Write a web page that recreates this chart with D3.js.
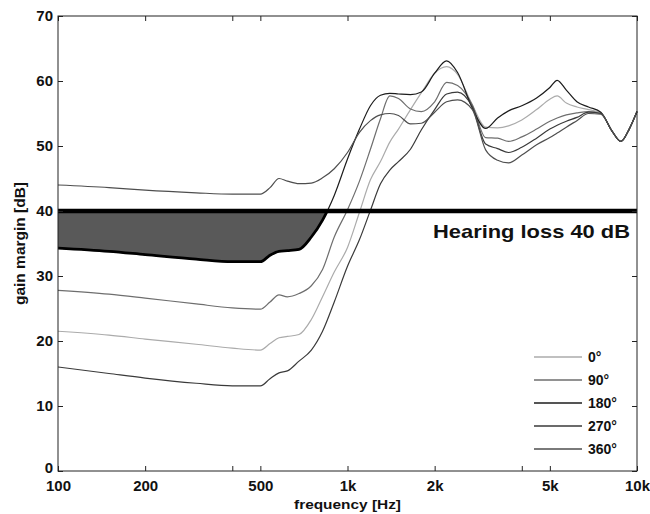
<!DOCTYPE html>
<html>
<head>
<meta charset="utf-8">
<script src="https://cdn.jsdelivr.net/npm/d3@7"></script>
<style>
body { margin: 0; background: #fff; }
text { font-family: "Liberation Sans", Arial, sans-serif; font-weight: bold; fill: #111; }
</style>
</head>
<body>
<svg></svg>
<script>
// frequency grid the curves were read at (Hz)
let freqs = [100, 150, 200, 300, 400, 500, 540, 580, 620, 680, 750, 820, 900,
             1000, 1100, 1200, 1300, 1400, 1500, 1650, 1800, 2000, 2200, 2400, 2700,
             3000, 3300, 3600, 4000, 4500, 5000, 5300, 5700, 6200, 6800, 7500, 8200,
             8800, 9400, 10000];

// gain margin per angle (dB)
let deg0 = [21.5, 20.9, 20.3, 19.5, 18.9, 18.6, 19.6, 20.5, 20.7, 21.0, 23.3, 26.8, 30.6,
            34.4, 39.8, 44.8, 47.6, 50.6, 52.6, 55.6, 58.2, 61.2, 62.2, 61.0, 56.3,
            52.9, 52.8, 53.1, 54.0, 55.6, 57.2, 57.7, 56.6, 56.0, 55.6, 55.1, 52.3,
            50.7, 52.6, 55.3];
let deg90 = [27.8, 27.2, 26.6, 25.7, 25.1, 24.9, 26.0, 27.1, 26.8, 27.3, 28.5, 31.0, 36.0,
             40.2, 44.6, 49.5, 54.2, 57.7, 57.3, 55.7, 55.3, 56.8, 59.8, 59.3, 56.3,
             51.3, 51.2, 50.7, 51.4, 52.6, 53.8, 54.3, 54.8, 55.1, 55.3, 55.0, 52.3,
             50.7, 52.6, 55.3];
let deg180 = [34.3, 33.8, 33.3, 32.6, 32.2, 32.2, 33.2, 33.8, 33.9, 34.1, 36.0, 38.6, 42.4,
              48.0, 52.6, 56.2, 57.8, 58.1, 58.0, 57.9, 58.3, 61.2, 63.1, 61.3, 55.8,
              52.7, 54.3, 55.4, 56.2, 57.4, 59.0, 60.1, 58.6, 56.8, 56.0, 55.2, 52.3,
              50.7, 52.6, 55.3];
let deg270 = [16.0, 15.0, 14.3, 13.5, 13.1, 13.1, 14.2, 15.1, 15.4, 16.9, 18.6, 21.5, 26.0,
              31.5, 35.6, 40.1, 44.2, 46.3, 47.6, 49.5, 52.5, 55.6, 58.0, 58.3, 56.0,
              50.3, 49.6, 49.0, 49.8, 51.2, 52.6, 53.2, 53.8, 54.4, 55.2, 55.0, 52.3,
              50.7, 52.6, 55.3];
let deg360 = [44.0, 43.6, 43.2, 42.8, 42.6, 42.6, 43.6, 45.0, 44.6, 44.2, 44.3, 45.1, 46.5,
              49.0, 52.1, 53.9, 54.8, 55.0, 54.7, 53.4, 53.5, 55.2, 56.8, 57.1, 55.6,
              49.4, 47.8, 47.4, 48.6, 50.2, 51.3, 52.0, 52.9, 53.9, 55.0, 54.9, 52.3,
              50.7, 52.6, 55.3];

let seriesNames = ['0°', '90°', '180°', '270°', '360°'];
let seriesColors = ['#ababab', '#6e6e6e', '#1c1c1c', '#3a3a3a', '#4e4e4e'];
let seriesValues = [deg0, deg90, deg180, deg270, deg360];

let hearingLoss = 40;
let xTicks = [100, 200, 400, 500, 1000, 2000, 4000, 5000, 10000];
let xTickText = {100: '100', 200: '200', 500: '500', 1000: '1k', 2000: '2k', 5000: '5k', 10000: '10k'};
let yTicks = [0, 10, 20, 30, 40, 50, 60, 70];

let width = 650;
let height = 514;
let plotLeft = 58, plotRight = 637, plotTop = 16, plotBottom = 471;

let svg = d3.select('svg').attr('width', width).attr('height', height);

let xScale = d3.scaleLog().domain([100, 10000]).range([plotLeft, plotRight]);
let yScale = d3.scaleLinear().domain([0, 70]).range([plotBottom, plotTop]);

let pts = (vals) => freqs.map((f, i) => [f, vals[i]]);

let line = d3.line()
  .x(d => xScale(d[0]))
  .y(d => yScale(d[1]))
  .curve(d3.curveMonotoneX);

// shaded part: below the 40 dB line and above the 180° curve
svg.append('clipPath').attr('id', 'below40')
  .append('rect')
  .attr('x', plotLeft).attr('y', yScale(hearingLoss))
  .attr('width', plotRight - plotLeft).attr('height', plotBottom - yScale(hearingLoss));

let area = d3.area()
  .x(d => xScale(d[0]))
  .y0(yScale(hearingLoss))
  .y1(d => yScale(d[1]))
  .curve(d3.curveMonotoneX);

svg.append('path')
  .datum(pts(deg180))
  .attr('d', area)
  .attr('fill', '#595959')
  .attr('clip-path', 'url(#below40)');

// curves
seriesValues.forEach((vals, i) => {
  svg.append('path')
    .datum(pts(vals))
    .attr('d', line)
    .attr('fill', 'none')
    .attr('stroke', seriesColors[i])
    .attr('stroke-width', 1.2);
});

// thick border of the shaded part
svg.append('path')
  .datum(pts(deg180))
  .attr('d', line)
  .attr('fill', 'none')
  .attr('stroke', '#000')
  .attr('stroke-width', 2.8)
  .attr('clip-path', 'url(#below40)');

// hearing loss line
svg.append('line')
  .attr('x1', plotLeft).attr('x2', plotRight)
  .attr('y1', yScale(hearingLoss)).attr('y2', yScale(hearingLoss))
  .attr('stroke', '#000')
  .attr('stroke-width', 4.5);

svg.append('text')
  .attr('x', 433).attr('y', 238)
  .attr('font-size', 19)
  .attr('textLength', 197)
  .attr('lengthAdjust', 'spacingAndGlyphs')
  .text('Hearing loss 40 dB');

// axes, ticks pointing inward like matlab
let xAxis = d3.axisBottom(xScale).tickValues(xTicks)
  .tickFormat(d => xTickText[d] || '').tickSize(-5).tickPadding(9);
let xAxisTop = d3.axisTop(xScale).tickValues(xTicks).tickFormat('').tickSize(-5);
let yAxis = d3.axisLeft(yScale).tickValues(yTicks).tickSize(-5).tickPadding(5);
let yAxisRight = d3.axisRight(yScale).tickValues(yTicks).tickFormat('').tickSize(-5);

let gx = svg.append('g').attr('transform', 'translate(0,' + plotBottom + ')').call(xAxis);
svg.append('g').attr('transform', 'translate(0,' + plotTop + ')').call(xAxisTop);
let gy = svg.append('g').attr('transform', 'translate(' + plotLeft + ',0)').call(yAxis);
svg.append('g').attr('transform', 'translate(' + plotRight + ',0)').call(yAxisRight);

svg.selectAll('.domain').remove();
svg.selectAll('.tick line').attr('stroke', '#222');
gx.attr('font-family', null).attr('font-size', null);
gy.attr('font-family', null).attr('font-size', null);
gx.selectAll('text').attr('font-size', 15).style('fill', '#111');
gy.selectAll('text').attr('font-size', 15).style('fill', '#111');
// the 0 label sits a little higher so it clears the 100 label
gy.selectAll('text').filter(d => d === 0).attr('dy', '0.1em');

svg.append('rect')
  .attr('x', plotLeft).attr('y', plotTop)
  .attr('width', plotRight - plotLeft).attr('height', plotBottom - plotTop)
  .attr('fill', 'none')
  .attr('stroke', '#222')
  .attr('stroke-width', 1);

// axis titles
svg.append('text')
  .attr('x', (plotLeft + plotRight) / 2).attr('y', 509)
  .attr('text-anchor', 'middle')
  .attr('font-size', 13.5)
  .attr('textLength', 107)
  .attr('lengthAdjust', 'spacingAndGlyphs')
  .text('frequency [Hz]');

svg.append('text')
  .attr('transform', 'translate(25,' + (plotTop + plotBottom) / 2 + ') rotate(-90)')
  .attr('text-anchor', 'middle')
  .attr('font-size', 14)
  .attr('textLength', 123)
  .attr('lengthAdjust', 'spacingAndGlyphs')
  .text('gain margin [dB]');

// legend
let legend = svg.append('g');
seriesNames.forEach((name, i) => {
  let ly = 357 + i * 23;
  legend.append('line')
    .attr('x1', 534).attr('x2', 582)
    .attr('y1', ly).attr('y2', ly)
    .attr('stroke', seriesColors[i])
    .attr('stroke-width', 1.4);
  legend.append('text')
    .attr('x', 588).attr('y', ly + 5)
    .attr('font-size', 14)
    .text(name);
});
</script>
</body>
</html>
